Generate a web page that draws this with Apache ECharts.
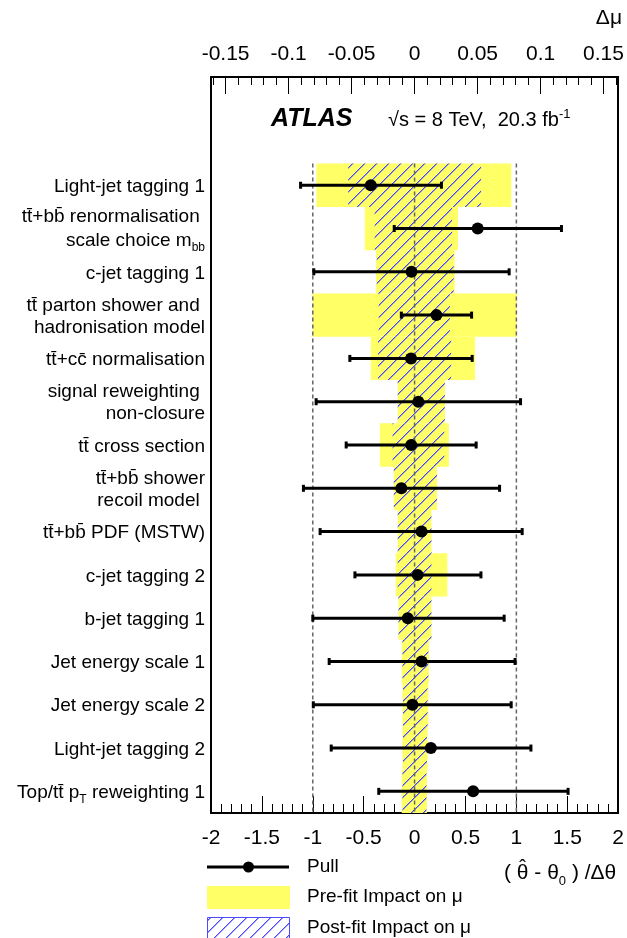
<!DOCTYPE html>
<html>
<head>
<meta charset="utf-8">
<script src="https://cdn.jsdelivr.net/npm/echarts@6/dist/echarts.min.js"></script>
<style>html,body{margin:0;padding:0;background:#fff;}#chart{width:627px;height:938px;}</style>
</head>
<body>
<div id="chart"></div>
<script>
// ---- data ----
const labels = [
  "Light-jet tagging 1",
  "tt\u0304+bb\u0304 renormalisation \nscale choice m{sub|bb}",
  "c-jet tagging 1",
  "tt\u0304 parton shower and \nhadronisation model",
  "tt\u0304+cc\u0304 normalisation",
  "signal reweighting \nnon-closure",
  "tt\u0304 cross section",
  "tt\u0304+bb\u0304 shower\nrecoil model ",
  "tt\u0304+bb\u0304 PDF (MSTW)",
  "c-jet tagging 2",
  "b-jet tagging 1",
  "Jet energy scale 1",
  "Jet energy scale 2",
  "Light-jet tagging 2",
  "Top/tt\u0304 p{sub|T} reweighting 1"
];
const pull    = [-0.43, 0.62, -0.03, 0.215, -0.035, 0.037, -0.033, -0.13, 0.068, 0.03, -0.067, 0.069, -0.021, 0.16, 0.575];
const pullLo  = [-1.12, -0.20, -0.99, -0.13, -0.636, -0.967, -0.672, -1.092, -0.928, -0.586, -1.0, -0.839, -0.995, -0.819, -0.352];
const pullHi  = [0.264, 1.443, 0.929, 0.56, 0.566, 1.041, 0.605, 0.835, 1.057, 0.652, 0.88, 0.987, 0.949, 1.143, 1.508];
const preDown = [-0.0779, -0.0395, -0.0306, -0.081, -0.0348, -0.0134, -0.0276, -0.0165, -0.0134, -0.015, -0.0128, -0.0102, -0.0096, -0.0096, -0.0102];
const preUp   = [0.0768, 0.0345, 0.0319, 0.0812, 0.048, 0.0241, 0.0272, 0.0178, 0.0134, 0.026, 0.0134, 0.0114, 0.0109, 0.0103, 0.0098];
const postDown= [-0.0527, -0.0317, -0.030, -0.0285, -0.029, -0.0134, -0.0175, -0.0165, -0.0134, -0.0134, -0.0128, -0.0096, -0.0092, -0.0092, -0.0096];
const postUp  = [0.0528, 0.0298, 0.031, 0.028, 0.029, 0.024, 0.0235, 0.0178, 0.0134, 0.0134, 0.0134, 0.0109, 0.0103, 0.0098, 0.0094];
const refLines = [-1, 0, 1];
const topTicks = [-0.15, -0.1, -0.05, 0, 0.05, 0.1, 0.15];
const topMinorTicks = [-0.16,-0.15,-0.14,-0.13,-0.12,-0.11,-0.1,-0.09,-0.08,-0.07,-0.06,-0.05,-0.04,-0.03,-0.02,-0.01,0,
  0.01,0.02,0.03,0.04,0.05,0.06,0.07,0.08,0.09,0.1,0.11,0.12,0.13,0.14,0.15,0.16];
const pullRange = 2;          // bottom axis half-range
const dmuRange = 0.1616;      // top axis half-range
const nRows = labels.length;
const rowIdx = labels.map((_, i) => i);

// ---- styles ----
const FONT = "'Liberation Sans', Arial, Helvetica, sans-serif";
const YELLOW = '#ffff66';
function hatchCanvas() {
  const n = 12;
  const c = document.createElement('canvas');
  c.width = n; c.height = n;
  const g = c.getContext('2d');
  for (let i = 0; i < n; i++) {
    g.fillStyle = 'rgb(70,70,255)';
    g.fillRect(i, n - 1 - i, 1, 1);
    g.fillStyle = 'rgba(90,90,255,0.55)';
    g.fillRect(i, (n - i) % n, 1, 1);
  }
  return c;
}
const HATCH = { image: hatchCanvas(), repeat: 'repeat' };

function bandRender(fill) {
  return function (params, api) {
    const row = api.value(2);
    const p0 = api.coord([api.value(0), row]);
    const p1 = api.coord([api.value(1), row]);
    const h = Math.abs(api.size([0, 1])[1]);
    return { type: 'rect', shape: { x: p0[0], y: p0[1] - h / 2, width: p1[0] - p0[0], height: h },
             style: { fill: fill } };
  };
}

// measure text for placing the hat over theta
function textW(s, px) {
  const g = document.createElement('canvas').getContext('2d');
  g.font = px + 'px ' + FONT;
  return g.measureText(s).width;
}
const TITLE_X = 504, TITLE_FS = 21;
const hatX = TITLE_X + textW('( ', TITLE_FS) + textW('\u03B8', TITLE_FS) / 2;

const AXLINE = { show: true, onZero: false, lineStyle: { color: '#000', width: 2 } };

const chart = echarts.init(document.getElementById('chart'), null, { renderer: 'canvas' });
const option = {
  animation: false,
  backgroundColor: '#fff',
  textStyle: { fontFamily: FONT },
  grid: { left: 211, right: 5, top: 77, bottom: 125, containLabel: false },
  xAxis: [
    { type: 'value', position: 'bottom', min: -pullRange, max: pullRange, interval: 0.5,
      axisLine: AXLINE,
      axisTick: { show: true, inside: true, length: 17, lineStyle: { color: '#000', width: 1 } },
      minorTick: { show: true, splitNumber: 5, length: 9, lineStyle: { color: '#000', width: 1 } },
      axisLabel: { fontSize: 21, color: '#000', margin: 15, fontFamily: FONT,
                   alignMinLabel: 'center', alignMaxLabel: 'center' },
      splitLine: { show: false }, minorSplitLine: { show: false } },
    { type: 'value', position: 'top', min: -dmuRange, max: dmuRange,
      axisLine: AXLINE,
      axisTick: { show: true, inside: true, length: 17, customValues: topTicks, lineStyle: { color: '#000', width: 1 } },
      axisLabel: { fontSize: 21, color: '#000', margin: 12, fontFamily: FONT, customValues: topTicks,
                   formatter: v => String(Math.round(v * 100) / 100) },
      splitLine: { show: false } },
    { type: 'value', position: 'top', min: -dmuRange, max: dmuRange,
      axisLine: { show: false, onZero: false },
      axisTick: { show: true, inside: true, length: 8, customValues: topMinorTicks, lineStyle: { color: '#000', width: 1 } },
      axisLabel: { show: false },
      splitLine: { show: false } }
  ],
  yAxis: [
    { type: 'value', inverse: true, min: -2.5, max: nRows - 0.5, position: 'left',
      axisLine: AXLINE,
      axisTick: { show: false }, splitLine: { show: false },
      axisLabel: { customValues: rowIdx, formatter: v => labels[v], fontSize: 19, color: '#000',
                   fontFamily: FONT, margin: 6, lineHeight: 22, align: 'right', padding: [3, 0, 0, 0],
                   rich: { sub: { fontSize: 12, verticalAlign: 'bottom', lineHeight: 26, fontFamily: FONT, color: '#000' } } } },
    { type: 'value', inverse: true, min: -2.5, max: nRows - 0.5, position: 'right',
      axisLine: AXLINE,
      axisTick: { show: false }, axisLabel: { show: false }, splitLine: { show: false } }
  ],
  series: [
    { type: 'custom', name: 'Pre-fit', xAxisIndex: 1, yAxisIndex: 0, clip: false, z: 1,
      renderItem: bandRender(YELLOW), encode: { x: [0, 1], y: 2 },
      data: preDown.map((d, i) => [d, preUp[i], i]) },
    { type: 'custom', name: 'Post-fit', xAxisIndex: 1, yAxisIndex: 0, clip: false, z: 2,
      renderItem: bandRender(HATCH), encode: { x: [0, 1], y: 2 },
      data: postDown.map((d, i) => [d, postUp[i], i]) },
    { type: 'custom', name: 'ref', xAxisIndex: 0, yAxisIndex: 0, clip: false, z: 3,
      encode: { x: 0 },
      renderItem: function (params, api) {
        const a = api.coord([api.value(0), -0.5]);
        const b = api.coord([api.value(0), nRows - 0.5]);
        return { type: 'line', shape: { x1: a[0], y1: a[1], x2: b[0], y2: b[1] },
                 style: { stroke: '#666', lineWidth: 1.5, lineDash: [4, 3] } };
      },
      data: refLines.map(v => [v]) },
    { type: 'custom', name: 'Pull', xAxisIndex: 0, yAxisIndex: 0, clip: false, z: 4,
      encode: { x: [0, 1, 2], y: 3 },
      renderItem: function (params, api) {
        const row = api.value(3);
        const c = api.coord([api.value(0), row]);
        const l = api.coord([api.value(1), row]);
        const r = api.coord([api.value(2), row]);
        const st = { stroke: '#000', lineWidth: 3 };
        return { type: 'group', children: [
          { type: 'line', shape: { x1: l[0], y1: l[1], x2: r[0], y2: r[1] }, style: st },
          { type: 'line', shape: { x1: l[0], y1: l[1] - 3.5, x2: l[0], y2: l[1] + 3.5 }, style: st },
          { type: 'line', shape: { x1: r[0], y1: r[1] - 3.5, x2: r[0], y2: r[1] + 3.5 }, style: st },
          { type: 'circle', shape: { cx: c[0], cy: c[1], r: 6 }, style: { fill: '#000' } }
        ] };
      },
      data: pull.map((p, i) => [p, pullLo[i], pullHi[i], i]) }
  ],
  graphic: [
    { type: 'text', left: 271, top: 107, style: { text: 'ATLAS', font: "italic bold 25px " + FONT, fill: '#000' } },
    { type: 'text', left: 388, top: 108, style: {
        text: '\u221As = 8 TeV,  20.3 fb{sup|-1}', fill: '#000', font: "20px " + FONT, lineHeight: 24,
        rich: { sup: { fontSize: 13, verticalAlign: 'top', fontFamily: FONT, fill: '#000' } } } },
    { type: 'text', right: 5, top: 8, style: { text: '\u0394\u03BC', font: "21px " + FONT, fill: '#000' } },
    { type: 'text', x: TITLE_X, y: 858, style: {
        text: '( \u03B8 - \u03B8{sub|0} ) /\u0394\u03B8', fill: '#000', font: TITLE_FS + "px " + FONT, lineHeight: 24,
        rich: { sub: { fontSize: 13, verticalAlign: 'bottom', lineHeight: 30, fontFamily: FONT, fill: '#000' } } } },
    { type: 'text', x: hatX, y: 858, style: { text: '\u02C6', fill: '#000', font: "20px " + FONT, align: 'center' } },
    { type: 'line', shape: { x1: 207, y1: 867, x2: 289, y2: 867 }, style: { stroke: '#000', lineWidth: 3 } },
    { type: 'circle', shape: { cx: 248.5, cy: 867, r: 5.5 }, style: { fill: '#000' } },
    { type: 'text', left: 307, top: 857, style: { text: 'Pull', font: "19px " + FONT, fill: '#000' } },
    { type: 'rect', shape: { x: 207, y: 886, width: 83, height: 23 }, style: { fill: YELLOW } },
    { type: 'text', left: 307, top: 887, style: { text: 'Pre-fit Impact on \u03BC', font: "19px " + FONT, fill: '#000' } },
    { type: 'rect', shape: { x: 207.5, y: 917.5, width: 82, height: 23 }, style: { fill: HATCH, stroke: '#4d4dff', lineWidth: 1 } },
    { type: 'text', left: 307, top: 918, style: { text: 'Post-fit Impact on \u03BC', font: "19px " + FONT, fill: '#000' } }
  ]
};
chart.setOption(option);
</script>
</body>
</html>
